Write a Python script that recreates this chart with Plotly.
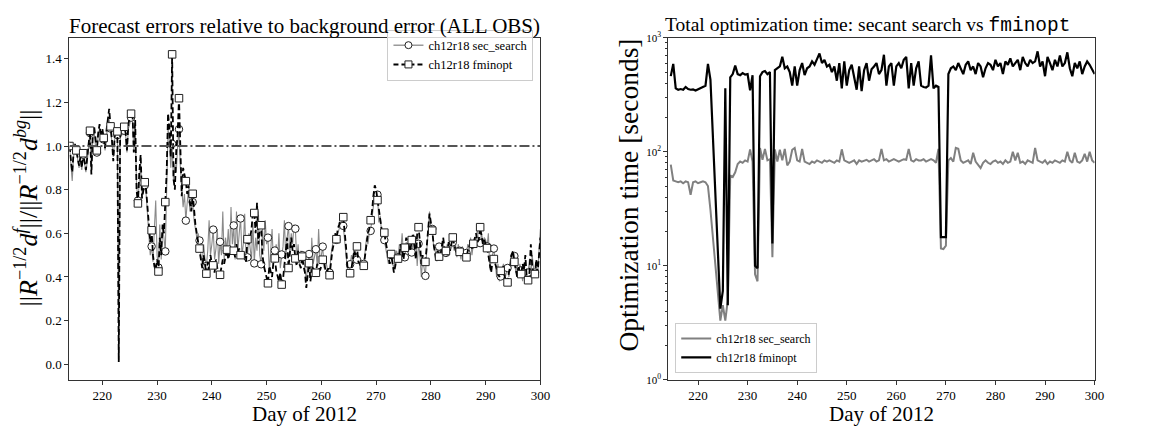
import numpy as np
import plotly.graph_objects as go

# ---------------- Left panel data (6-hourly, day 214.00 .. 300.00) ----------------
left_start_day = 214.0
left_step = 0.25
fminopt_err = [
    1.00, 0.93, 0.88, 0.97,  1.01, 0.98, 0.94, 0.91,  0.95, 0.90, 0.967, 0.93,  0.89, 0.95, 1.02, 1.07,
    0.87, 1.05, 1.09, 1.02,  0.98, 1.06, 1.10, 1.04,  1.08, 1.037, 0.99, 1.07,  1.12, 1.17, 1.09, 1.03,
    0.93, 1.04, 1.08, 1.067,  0.01, 1.04, 1.10, 1.07,  1.088, 1.06, 0.98, 1.10,  1.13, 1.148, 1.16, 0.97,
    1.12, 0.80, 0.737, 0.88,  0.96, 0.76, 0.80, 0.834,  0.80, 0.72, 0.62, 0.56,  0.614, 0.50, 0.45, 0.43,
    0.48, 0.425, 0.58, 0.50,  0.64, 0.60, 0.743, 0.88,  1.15, 1.08, 0.95, 1.42,  0.85, 0.80, 0.98, 1.05,
    1.219, 0.92, 0.77, 0.90,  0.87, 0.839, 0.78, 0.82,  0.74, 0.70, 0.781, 0.70,  0.64, 0.60, 0.56, 0.53,
    0.48, 0.44, 0.50, 0.45,  0.415, 0.47, 0.43, 0.50,  0.46, 0.453, 0.42, 0.48,  0.44, 0.40, 0.41, 0.45,
    0.48, 0.46, 0.50, 0.525,  0.48, 0.51, 0.50, 0.53,  0.52, 0.49, 0.55, 0.51,  0.53, 0.50, 0.48, 0.52,
    0.50, 0.47, 0.573, 0.55,  0.58, 0.62, 0.70, 0.693,  0.60, 0.74, 0.55, 0.62,  0.637, 0.50, 0.45, 0.42,
    0.39, 0.371, 0.45, 0.43,  0.40, 0.47, 0.485, 0.43,  0.40, 0.38, 0.42, 0.365,  0.39, 0.45, 0.52, 0.58,
    0.441, 0.50, 0.58, 0.52,  0.55, 0.485, 0.45, 0.52,  0.46, 0.44, 0.493, 0.45,  0.42, 0.35, 0.40, 0.463,
    0.38, 0.43, 0.45, 0.40,  0.419, 0.46, 0.44, 0.43,  0.45, 0.479, 0.47, 0.43,  0.42, 0.44, 0.408, 0.48,
    0.52, 0.55, 0.60, 0.573,  0.62, 0.64, 0.66, 0.69,  0.674, 0.62, 0.54, 0.45,  0.42, 0.417, 0.44, 0.48,
    0.52, 0.50, 0.54, 0.47,  0.46, 0.45, 0.44, 0.451,  0.50, 0.56, 0.60, 0.62,  0.660, 0.70, 0.77, 0.82,
    0.80, 0.752, 0.70, 0.66,  0.62, 0.60, 0.603, 0.56,  0.52, 0.48, 0.46, 0.505,  0.47, 0.42, 0.45, 0.49,
    0.484, 0.50, 0.55, 0.51,  0.48, 0.534, 0.58, 0.56,  0.54, 0.52, 0.569, 0.60,  0.55, 0.48, 0.60, 0.628,
    0.56, 0.46, 0.50, 0.45,  0.469, 0.55, 0.64, 0.69,  0.65, 0.612, 0.55, 0.50,  0.47, 0.52, 0.493, 0.50,
    0.55, 0.58, 0.53, 0.519,  0.50, 0.56, 0.52, 0.55,  0.581, 0.55, 0.52, 0.50,  0.53, 0.515, 0.50, 0.52,
    0.48, 0.50, 0.49, 0.52,  0.54, 0.56, 0.53, 0.552,  0.58, 0.60, 0.56, 0.57,  0.628, 0.58, 0.55, 0.57,
    0.55, 0.532, 0.50, 0.45,  0.42, 0.47, 0.482, 0.46,  0.44, 0.42, 0.40, 0.428,  0.42, 0.45, 0.40, 0.38,
    0.375, 0.42, 0.45, 0.50,  0.52, 0.469, 0.44, 0.40,  0.45, 0.42, 0.413, 0.46,  0.43, 0.50, 0.40, 0.385,
    0.42, 0.55, 0.45, 0.40,  0.413, 0.48, 0.42, 0.50,
    0.58,
]
secsearch_err = [
    1.00, 0.90, 0.84, 0.95,  0.99, 0.98, 0.93, 0.90,  0.94, 0.89, 0.96, 0.92,  0.88, 0.93, 1.00, 1.06,
    0.90, 1.03, 1.07, 1.00,  0.97, 1.05, 1.08, 1.02,  1.06, 1.03, 0.98, 1.05,  1.10, 1.12, 1.08, 1.02,
    0.95, 1.03, 1.06, 1.05,  0.02, 1.02, 1.08, 1.05,  1.07, 1.05, 0.97, 1.08,  1.10, 1.13, 1.12, 0.98,
    1.08, 0.82, 0.75, 0.86,  0.92, 0.78, 0.80, 0.82,  0.78, 0.70, 0.60, 0.50,  0.54, 0.47, 0.62, 0.75,
    0.50, 0.443, 0.64, 0.48,  0.62, 0.58, 0.517, 0.78,  1.08, 1.02, 0.90, 1.01,  0.84, 0.92, 0.88, 1.00,
    1.077, 0.90, 0.80, 0.72,  0.78, 0.658, 0.74, 0.80,  0.70, 0.72, 0.743, 0.66,  0.62, 0.58, 0.60, 0.567,
    0.50, 0.46, 0.55, 0.48,  0.45, 0.52, 0.66, 0.50,  0.55, 0.617, 0.48, 0.53,  0.62, 0.46, 0.561, 0.50,
    0.70, 0.48, 0.58, 0.52,  0.62, 0.50, 0.72, 0.55,  0.636, 0.48, 0.70, 0.52,  0.60, 0.668, 0.50, 0.55,
    0.69, 0.48, 0.49, 0.60,  0.53, 0.48, 0.65, 0.462,  0.58, 0.52, 0.70, 0.50,  0.458, 0.62, 0.52, 0.66,
    0.55, 0.58, 0.42, 0.50,  0.62, 0.46, 0.521, 0.55,  0.48, 0.60, 0.44, 0.503,  0.54, 0.66, 0.48, 0.58,
    0.633, 0.50, 0.60, 0.55,  0.64, 0.621, 0.48, 0.55,  0.45, 0.52, 0.50, 0.48,  0.44, 0.38, 0.46, 0.505,
    0.40, 0.58, 0.46, 0.50,  0.527, 0.45, 0.62, 0.48,  0.50, 0.539, 0.44, 0.48,  0.45, 0.40, 0.42, 0.50,
    0.55, 0.58, 0.56, 0.57,  0.60, 0.62, 0.64, 0.66,  0.634, 0.58, 0.50, 0.44,  0.43, 0.458, 0.50, 0.46,
    0.55, 0.48, 0.479, 0.50,  0.45, 0.48, 0.44, 0.46,  0.52, 0.58, 0.55, 0.60,  0.611, 0.66, 0.72, 0.78,
    0.76, 0.777, 0.65, 0.68,  0.60, 0.57, 0.569, 0.53,  0.50, 0.46, 0.49, 0.50,  0.46, 0.44, 0.50, 0.52,
    0.49, 0.55, 0.52, 0.60,  0.50, 0.49, 0.56, 0.52,  0.58, 0.50, 0.512, 0.56,  0.52, 0.58, 0.45, 0.552,
    0.50, 0.40, 0.48, 0.44,  0.405, 0.52, 0.60, 0.70,  0.62, 0.62, 0.54, 0.52,  0.50, 0.55, 0.539, 0.48,
    0.52, 0.56, 0.50, 0.51,  0.55, 0.50, 0.58, 0.53,  0.559, 0.52, 0.55, 0.49,  0.55, 0.52, 0.48, 0.54,
    0.50, 0.52, 0.51, 0.55,  0.52, 0.58, 0.50, 0.55,  0.56, 0.58, 0.62, 0.54,  0.555, 0.60, 0.56, 0.58,
    0.57, 0.54, 0.60, 0.44,  0.48, 0.50, 0.53, 0.45,  0.40, 0.46, 0.38, 0.402,  0.44, 0.46, 0.39, 0.42,
    0.441, 0.40, 0.48, 0.45,  0.50, 0.496, 0.42, 0.46,  0.40, 0.46, 0.43, 0.38,  0.45, 0.40, 0.44, 0.42,
    0.48, 0.40, 0.50, 0.44,  0.42, 0.46, 0.40, 0.52,
    0.62,
]
reference_level = 1.0
marker_every = 5

# ---------------- Right panel data (12-hourly, day 214.5 .. 300.0) ----------------
right_start_day = 214.5
right_step = 0.5
fminopt_time = [
    461,
    590, 360,  350, 355,  350, 370,  355, 350,  352, 345,  355, 365,  375, 380,  590, 430,
    None, None,  None, 4.2,  6.0, 360,  4.5, 450,  480, 570,  480, 470,  490, 475,  480, 345,
    470, 10,  9.5, 460,  500, 510,  480, 500,  15.7, 520,  540, 560,  680, 540,  560, 500,
    380, 560,  380, 520,  600, 470,  540, 560,  620, 580,  650, 728,  600, 640,  560, 580,
    500, 560,  420, 600,  360, 620,  380, 520,  580, 460,  350, 560,  340, 520,  600, 420,
    530, 560,  600, 480,  520, 710,  380, 560,  600, 380,  560, 600,  540, 640,  680, 360,
    600, 380,  540, 620,  380, 370,  365, 380,  700, 360,  380, 370,  17.8, 17.8,  17.8, 480,
    540, 560,  520, 600,  540, 480,  580, 620,  520, 560,  480, 600,  560, 450,  540, 600,
    580, 520,  640, 560,  600, 480,  620, 580,  660, 560,  600, 640,  520, 680,  600, 560,
    640, 600,  620, 760,  560, 620,  460, 680,  600, 520,  640, 560,  700, 560,  600, 745,
    540, 460,  600, 540,  620, 480,  560, 620,  580, 520,
    480,
]
secsearch_time = [
    77,
    56, 55,  54, 55,  53, 55,  54, 42,  54, 55,  53, 54,  55, 54,  50, 31,
    None, None,  None, 3.3,  4.5, 3.3,  5.0, 62,  60, 66,  78, 82,  80, 84,  82, 105,
    82, 8.4,  7.3, 108,  85, 106,  84, 86,  11.9, 105,  82, 104,  84, 106,  76, 82,
    104, 108,  84, 82,  106, 82,  80, 78,  82, 80,  84, 82,  80, 84,  82, 84,
    82, 80,  84, 82,  105, 84,  82, 80,  82, 84,  78, 84,  82, 84,  85, 82,
    84, 86,  82, 84,  106, 84,  86, 82,  84, 86,  84, 82,  84, 86,  85, 106,
    84, 82,  86, 84,  84, 86,  82, 84,  86, 84,  80, 106,  14.2, 14.0,  15.0, 84,
    88, 82,  108, 106,  84, 80,  82, 84,  78, 98,  82, 76,  72, 80,  84, 80,
    78, 82,  84, 80,  82, 78,  84, 80,  82, 100,  84, 98,  80, 82,  78, 84,
    82, 80,  108, 84,  82, 80,  84, 78,  82, 80,  84, 82,  80, 84,  82, 100,
    84, 80,  98, 82,  80, 84,  96, 82,  100, 84,
    80,
]

x_ticks = [220, 230, 240, 250, 260, 270, 280, 290, 300]
left_y_ticks = [0.0, 0.2, 0.4, 0.6, 0.8, 1.0, 1.2, 1.4]
right_y_ticks = [1, 10, 100, 1000]
right_y_ticktext = ["10<sup>0</sup>", "10<sup>1</sup>", "10<sup>2</sup>", "10<sup>3</sup>"]
right_minor_ticks = [m * 10 ** e for e in range(0, 3) for m in range(2, 10)]

series_names = ["ch12r18 sec_search", "ch12r18 fminopt"]

# ---------------- Build figure ----------------
x_left = left_start_day + left_step * np.arange(len(fminopt_err))
x_right = right_start_day + right_step * np.arange(len(fminopt_time))

SERIF = "Liberation Serif, Times New Roman, serif"
W, H = 1167, 429

fig = go.Figure()

# Left panel: sec_search
fig.add_trace(go.Scatter(x=x_left, y=secsearch_err, mode="lines", line=dict(color="#8a8a8a", width=1.1),
                         showlegend=False, xaxis="x", yaxis="y", hoverinfo="skip"))
fig.add_trace(go.Scatter(x=x_left[::marker_every], y=secsearch_err[::marker_every], mode="markers",
                         marker=dict(symbol="circle", size=7.5, color="white", line=dict(color="#222", width=1)),
                         showlegend=False, xaxis="x", yaxis="y"))
# Left panel: fminopt
fig.add_trace(go.Scatter(x=x_left, y=fminopt_err, mode="lines", line=dict(color="black", width=1.8, dash="6px,3px"),
                         showlegend=False, xaxis="x", yaxis="y", hoverinfo="skip"))
fig.add_trace(go.Scatter(x=x_left[::marker_every], y=fminopt_err[::marker_every], mode="markers",
                         marker=dict(symbol="square", size=7.5, color="white", line=dict(color="#222", width=1)),
                         showlegend=False, xaxis="x", yaxis="y"))
# reference line
fig.add_trace(go.Scatter(x=[x_left[0], x_left[-1]], y=[reference_level, reference_level], mode="lines",
                         line=dict(color="#555555", width=2, dash="10px,3px,2px,3px"),
                         showlegend=False, xaxis="x", yaxis="y"))
# legend entries (left)
fig.add_trace(go.Scatter(x=[None], y=[None], mode="lines+markers", name=series_names[0],
                         line=dict(color="#666", width=1),
                         marker=dict(symbol="circle", size=7, color="white", line=dict(color="#222", width=1)),
                         legend="legend", xaxis="x", yaxis="y"))
fig.add_trace(go.Scatter(x=[None], y=[None], mode="lines+markers", name=series_names[1],
                         line=dict(color="black", width=2, dash="5px,3px"),
                         marker=dict(symbol="square", size=7, color="white", line=dict(color="#222", width=1)),
                         legend="legend", xaxis="x", yaxis="y"))

# Right panel
fig.add_trace(go.Scatter(x=x_right, y=secsearch_time, mode="lines", connectgaps=True,
                         line=dict(color="#808080", width=2), name=series_names[0],
                         legend="legend2", xaxis="x2", yaxis="y2"))
fig.add_trace(go.Scatter(x=x_right, y=fminopt_time, mode="lines", connectgaps=True,
                         line=dict(color="black", width=2.2), name=series_names[1],
                         legend="legend2", xaxis="x2", yaxis="y2"))

ydom = [1 - 376 / H, 1 - 22.5 / H]
axis_common = dict(showline=True, linecolor="#333", linewidth=1.2, mirror=True, ticks="outside",
                   ticklen=4, tickwidth=1, tickcolor="#333", showgrid=False, zeroline=False,
                   tickfont=dict(family=SERIF, size=13, color="black"))

fig.update_layout(
    width=W, height=H,
    margin=dict(l=0, r=0, t=0, b=0),
    paper_bgcolor="white", plot_bgcolor="white",
    xaxis=dict(domain=[62 / W, 537 / W], range=[214, 300], tickvals=x_ticks, anchor="y", **axis_common),
    yaxis=dict(domain=ydom, range=[-0.071, 1.496], tickvals=left_y_ticks, tickformat=".1f", anchor="x", **axis_common),
    xaxis2=dict(domain=[666 / W, 1096 / W], range=[214, 300], tickvals=x_ticks, anchor="y2", **axis_common),
    yaxis2=dict(domain=ydom, type="log", range=[0, 3], tickvals=right_y_ticks, ticktext=right_y_ticktext,
                anchor="x2",
                minor=dict(tickvals=right_minor_ticks, ticks="outside", ticklen=2, tickcolor="#333"),
                **{**axis_common, "tickfont": dict(family=SERIF, size=11, color="black")}),
    legend=dict(x=530 / W, xanchor="right", y=1 - 14 / H, yanchor="top", bgcolor="rgba(255,255,255,0.8)",
                bordercolor="#cccccc", borderwidth=1, font=dict(family=SERIF, size=12.5, color="black"),
                tracegroupgap=0, itemwidth=30),
    legend2=dict(x=673 / W, xanchor="left", y=1 - 369 / H, yanchor="bottom", bgcolor="rgba(255,255,255,0.8)",
                 bordercolor="#cccccc", borderwidth=1, font=dict(family=SERIF, size=12, color="black"),
                 tracegroupgap=0, itemwidth=30),
    showlegend=True,
)

annotations = [
    dict(text="Forecast errors relative to background error (ALL OBS)", x=299.5 / W, y=1 - 10 / H,
         font=dict(family=SERIF, size=21, color="black")),
    dict(text="Total optimization time: secant search vs <span style=\"font-family:'Liberation Mono'\">fminopt</span>",
         x=867 / W, y=1 - 10 / H, font=dict(family=SERIF, size=19.5, color="black")),
    dict(text="Day of 2012", x=299.5 / W, y=1 - 411 / H, font=dict(family=SERIF, size=21, color="black")),
    dict(text="Day of 2012", x=881 / W, y=1 - 411 / H, font=dict(family=SERIF, size=21, color="black")),
    dict(text="||<i>R</i><sup>−1/2</sup><i>d<sup>f</sup></i>||/||<i>R</i><sup>−1/2</sup><i>d<sup>bg</sup></i>||",
         x=19 / W, y=1 - 198 / H, textangle=-90, font=dict(family=SERIF, size=26, color="black")),
    dict(text="Optimization time [seconds]", x=626 / W, y=1 - 185 / H, textangle=-90,
         font=dict(family=SERIF, size=27.5, color="black")),
]
for a in annotations:
    a.update(xref="paper", yref="paper", showarrow=False, xanchor="center", yanchor="middle")
fig.update_layout(annotations=annotations)

fig.write_html("out.html")
